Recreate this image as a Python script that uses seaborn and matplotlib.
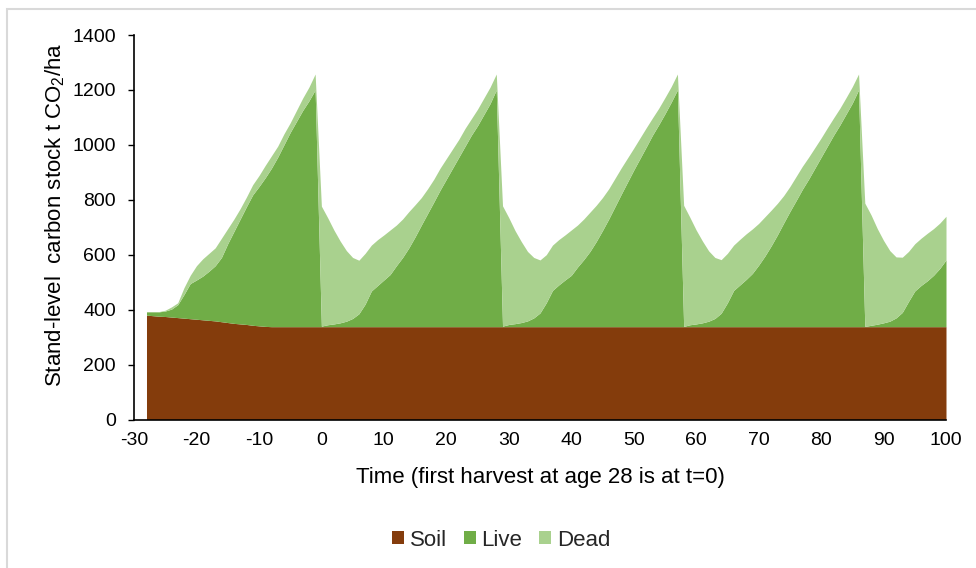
import matplotlib
matplotlib.use('Agg')
import matplotlib.pyplot as plt
import matplotlib.patches as patches
import seaborn as sns

# one value per year, t = -28 .. 100 (planting at t=-28, harvests at 0, 29, 58, 87)
years = list(range(-28, 101))

# soil carbon, t CO2/ha
soil = [
    380, 378, 376, 375, 373, 371, 369, 367, 365, 363, 361, 359, 356, 353, 350, 348, 346, 343, 341, 339,
    338, 338, 338, 338, 338, 338, 338, 338,
    338, 338, 338, 338, 338, 338, 338, 338, 338, 338, 338, 338, 338, 338, 338,
    338, 338, 338, 338, 338, 338, 338, 338, 338, 338, 338, 338, 338, 338,
    338, 338, 338, 338, 338, 338, 338, 338, 338, 338, 338, 338, 338, 338, 338,
    338, 338, 338, 338, 338, 338, 338, 338, 338, 338, 338, 338, 338, 338,
    338, 338, 338, 338, 338, 338, 338, 338, 338, 338, 338, 338, 338, 338, 338,
    338, 338, 338, 338, 338, 338, 338, 338, 338, 338, 338, 338, 338, 338,
    338, 338, 338, 338, 338, 338, 338, 338, 338, 338, 338, 338, 338, 338,
]

# live biomass carbon
live = [
    # establishment, t=-28..-1
    12, 14, 16, 20, 29, 47, 86, 128, 143, 159, 179, 201, 234, 287,
    335, 382, 429, 475, 507, 541, 577, 617, 662, 707, 747, 787, 822, 862,
    # rotation t=0..28
    2, 7, 10, 14, 20, 30, 47, 82, 130, 150, 170, 190, 222, 252, 287,
    327, 370, 412, 454, 497, 537, 577, 617, 657, 697, 732, 772, 812, 862,
    # rotation t=29..57
    2, 8, 11, 15, 21, 32, 50, 87, 132, 152, 170, 187, 217, 244, 274,
    310, 350, 392, 437, 482, 526, 570, 612, 654, 697, 735, 775, 817, 862,
    # rotation t=58..86
    1, 7, 10, 14, 20, 30, 49, 87, 132, 152, 172, 194, 224, 257, 294,
    334, 377, 419, 459, 500, 537, 577, 617, 657, 697, 734, 774, 814, 862,
    # rotation t=87..100
    1, 5, 9, 14, 20, 32, 52, 92, 130, 150, 167, 187, 212, 243,
]

# dead wood / litter carbon
dead = [
    0, 0, 1, 3, 8, 7, 25, 30, 52, 63, 65, 65, 70, 55,
    45, 38, 35, 37, 40, 45, 45, 40, 40, 35, 40, 45, 50, 58,
    437, 390, 342, 298, 257, 222, 195, 185, 167, 167, 164, 162, 148, 140, 132,
    117, 100, 90, 83, 80, 75, 70, 65, 65, 60, 60, 60, 60, 58,
    438, 389, 339, 295, 253, 220, 193, 175, 165, 165, 164, 165, 153, 148, 143,
    132, 120, 110, 103, 96, 88, 80, 75, 70, 63, 60, 59, 57, 58,
    441, 391, 342, 298, 256, 222, 195, 180, 165, 166, 166, 162, 152, 143, 130,
    115, 100, 91, 88, 84, 80, 75, 70, 67, 63, 61, 60, 60, 58,
    449, 402, 348, 300, 257, 222, 201, 182, 172, 172, 173, 170, 165, 159,
]

series_names = ['Soil', 'Live', 'Dead']
series_colors = ['#843C0C', '#70AD47', '#A9D18E']
x_ticks = [-30, -20, -10, 0, 10, 20, 30, 40, 50, 60, 70, 80, 90, 100]
y_ticks = [0, 200, 400, 600, 800, 1000, 1200, 1400]

sns.set_theme(style='white')
plt.rcParams['font.family'] = ['Liberation Sans', 'DejaVu Sans']
plt.rcParams['mathtext.default'] = 'regular'
plt.rcParams['axes.unicode_minus'] = False

W, H = 976, 568
fig = plt.figure(figsize=(W / 100, H / 100), dpi=100)
ax = fig.add_axes([134 / W, 1 - 419.5 / H, 812 / W, 384.5 / H])

ax.stackplot(years, soil, live, dead, colors=series_colors, labels=series_names, linewidth=0)

ax.set_xlim(-30, 100)
ax.set_ylim(0, 1400)
ax.set_xticks(x_ticks)
ax.set_yticks(y_ticks)
ax.tick_params(axis='x', bottom=False, length=0, labelsize=14, pad=9, colors='black')
ax.tick_params(axis='y', left=True, length=4, width=1, direction='out', labelsize=14, pad=9, colors='black')

sns.despine(ax=ax)
for side in ['left', 'bottom']:
    ax.spines[side].set_color('black')
    ax.spines[side].set_linewidth(1.2)

ax.set_xlabel('Time (first harvest at age 28 is at t=0)', fontsize=16, va='center', color='black')
ax.xaxis.set_label_coords(0.5, -0.152)
ax.set_ylabel('Stand-level  carbon stock t CO$_2$/ha', fontsize=16, va='center', color='black')
ax.yaxis.set_label_coords(-0.097, 0.532)

handles, labels = ax.get_legend_handles_labels()
fig.legend(handles, labels, loc='center', bbox_to_anchor=(501 / W, 1 - 540 / H), ncol=3,
           frameon=False, fontsize=16, handlelength=0.55, handleheight=0.55,
           handletextpad=0.25, columnspacing=0.75)

# light chart-area border (top and left edges visible)
fig.add_artist(patches.Rectangle((7 / W, -0.05), 1.1, 1 - 8.5 / H + 0.05, transform=fig.transFigure,
                                 fill=False, edgecolor='#D9D9D9', linewidth=1.5))

fig.savefig('out.png', dpi=100)
plt.close(fig)
